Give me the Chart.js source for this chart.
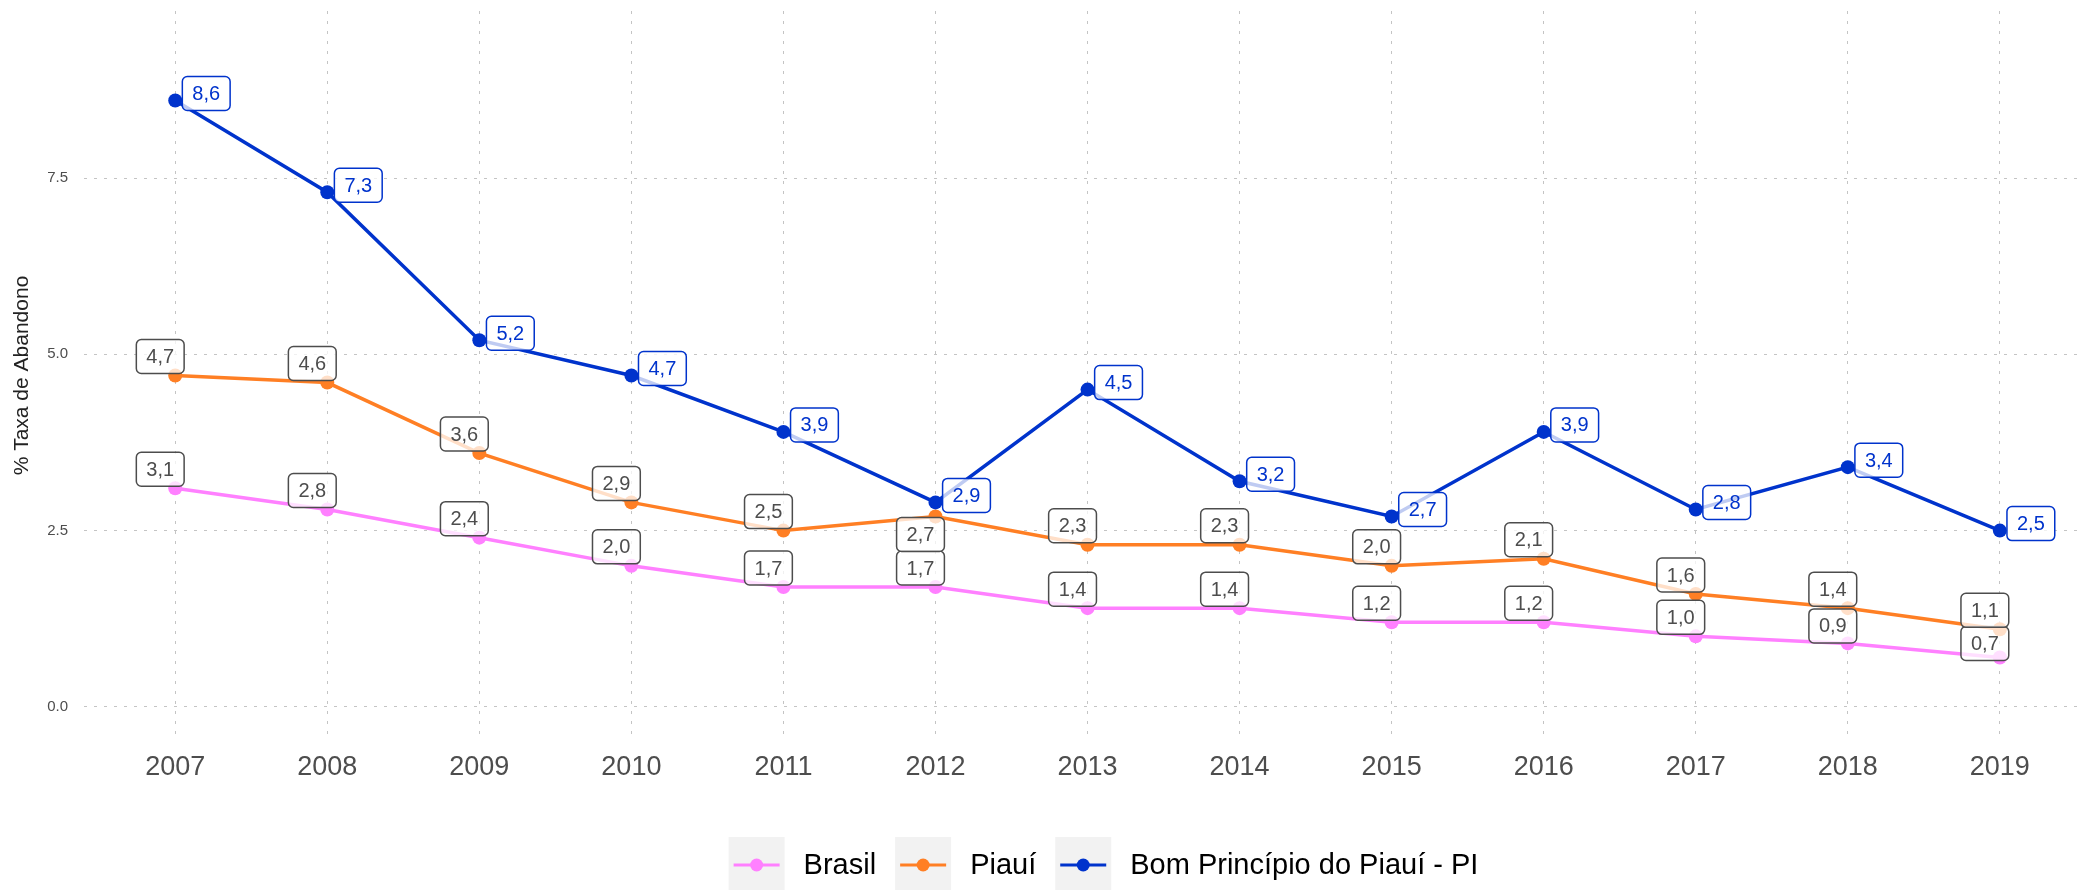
<!DOCTYPE html>
<html lang="pt-BR">
<head>
<meta charset="utf-8">
<title>Taxa de Abandono</title>
<script src="https://cdn.jsdelivr.net/npm/chart.js@4.4.1/dist/chart.umd.min.js"></script>
<style>
  html, body { margin: 0; padding: 0; background: #fff; overflow: hidden; }
  canvas { display: block; }
</style>
</head>
<body>
<canvas id="myChart" width="2092" height="890"></canvas>
<script>
var years = [2007, 2008, 2009, 2010, 2011, 2012, 2013, 2014, 2015, 2016, 2017, 2018, 2019];
var brasil = [3.1, 2.8, 2.4, 2.0, 1.7, 1.7, 1.4, 1.4, 1.2, 1.2, 1.0, 0.9, 0.7];
var piaui = [4.7, 4.6, 3.6, 2.9, 2.5, 2.7, 2.3, 2.3, 2.0, 2.1, 1.6, 1.4, 1.1];
var bomPrincipio = [8.6, 7.3, 5.2, 4.7, 3.9, 2.9, 4.5, 3.2, 2.7, 3.9, 2.8, 3.4, 2.5];
var seriesNames = ['Brasil', 'Piauí', 'Bom Princípio do Piauí - PI'];
var yTicks = [0, 2.5, 5, 7.5];

const FONT = '"Liberation Sans", Arial, Helvetica, sans-serif';

function toPoints(values) {
  var pts = [];
  for (let i = 0; i < years.length; i++) {
    pts.push({ x: years[i], y: values[i] });
  }
  return pts;
}

// boxed value next to every point, ggrepel style
const valueLabels = {
  id: 'valueLabels',
  afterDatasetsDraw(chart) {
    const ctx = chart.ctx;
    ctx.save();
    ctx.font = '20px ' + FONT;
    ctx.textAlign = 'center';
    ctx.textBaseline = 'middle';
    chart.data.datasets.forEach((ds, di) => {
      const meta = chart.getDatasetMeta(di);
      const st = ds.labelStyle;
      meta.data.forEach((pt, i) => {
        const txt = ds.data[i].y.toFixed(1).replace('.', ',');
        const w = ctx.measureText(txt).width + 20;
        const h = 34;
        const dy = (st.nudge[i] !== undefined) ? st.nudge[i] : st.dy;
        const cx = pt.x + st.dx;
        const cy = pt.y + dy;
        ctx.beginPath();
        ctx.roundRect(cx - w / 2, cy - h / 2, w, h, 5);
        ctx.fillStyle = 'rgba(255,255,255,0.75)';
        ctx.fill();
        ctx.lineWidth = 1.5;
        ctx.strokeStyle = st.color;
        ctx.stroke();
        ctx.fillStyle = st.color;
        ctx.fillText(txt, cx, cy + 1);
      });
    });
    ctx.restore();
  }
};

// legend with grey key boxes under the plot
const keyLegend = {
  id: 'keyLegend',
  afterDraw(chart) {
    const ctx = chart.ctx;
    const area = chart.chartArea;
    const key = 56, gap = 19, cy = 865;
    ctx.save();
    ctx.font = '29px ' + FONT;
    const items = chart.data.datasets.map(ds => ({ ds: ds, w: ctx.measureText(ds.label).width }));
    let total = 0;
    items.forEach((it, k) => {
      total += key + gap + it.w + (k < items.length - 1 ? gap : 0);
    });
    let x = (area.left + area.right) / 2 + 19 - total / 2;
    items.forEach(it => {
      ctx.fillStyle = '#F2F2F2';
      ctx.fillRect(x, cy - key / 2, key, key);
      ctx.strokeStyle = it.ds.borderColor;
      ctx.lineWidth = 3;
      ctx.beginPath();
      ctx.moveTo(x + 5, cy);
      ctx.lineTo(x + key - 5, cy);
      ctx.stroke();
      ctx.fillStyle = it.ds.borderColor;
      ctx.beginPath();
      ctx.arc(x + key / 2, cy, 6.5, 0, Math.PI * 2);
      ctx.fill();
      ctx.fillStyle = '#000';
      ctx.textAlign = 'left';
      ctx.textBaseline = 'middle';
      ctx.fillText(it.ds.label, x + key + gap, cy + 1);
      x += key + gap + it.w + gap;
    });
    ctx.restore();
  }
};

const gridStyle = { color: '#C4C4C4', lineWidth: 1, drawTicks: false };
const borderStyle = { display: false, dash: [3, 7] };

const ctx = document.getElementById('myChart');

new Chart(ctx, {
  type: 'line',
  data: {
    datasets: [{
      label: seriesNames[0],
      data: toPoints(brasil),
      borderColor: '#FF80FF',
      backgroundColor: '#FF80FF',
      order: 2,
      labelStyle: { color: '#4D4D4D', dx: -15, dy: -19, nudge: { 11: -17.5, 12: -14 } }
    }, {
      label: seriesNames[1],
      data: toPoints(piaui),
      borderColor: '#FF7F24',
      backgroundColor: '#FF7F24',
      order: 1,
      labelStyle: { color: '#4D4D4D', dx: -15, dy: -19, nudge: { 5: 18 } }
    }, {
      label: seriesNames[2],
      data: toPoints(bomPrincipio),
      borderColor: '#0033CC',
      backgroundColor: '#0033CC',
      order: 0,
      labelStyle: { color: '#0033CC', dx: 31, dy: -7, nudge: {} }
    }]
  },
  options: {
    responsive: false,
    animation: false,
    events: [],
    elements: {
      line: { borderWidth: 3.5, tension: 0 },
      point: { radius: 7, borderWidth: 0, hoverRadius: 7 }
    },
    layout: { padding: { top: 11, right: 1, left: 0, bottom: 0 } },
    plugins: {
      legend: { display: false },
      tooltip: { enabled: false }
    },
    scales: {
      x: {
        type: 'linear',
        min: 2006.4,
        max: 2019.56,
        afterBuildTicks: axis => { axis.ticks = years.map(v => ({ value: v })); },
        afterFit: axis => {
          axis.height = 150;
          axis.paddingLeft = 0;
          axis.paddingRight = 0;
        },
        grid: gridStyle,
        border: borderStyle,
        ticks: {
          padding: 11,
          color: '#4D4D4D',
          font: { family: FONT, size: 27 },
          maxRotation: 0,
          autoSkip: false,
          callback: v => String(v)
        }
      },
      y: {
        min: -0.47,
        max: 9.87,
        afterBuildTicks: axis => { axis.ticks = yTicks.map(v => ({ value: v })); },
        afterFit: axis => {
          axis.width = 84;
          axis.paddingTop = 0;
          axis.paddingBottom = 0;
        },
        grid: gridStyle,
        border: borderStyle,
        ticks: {
          padding: 16,
          color: '#4D4D4D',
          font: { family: FONT, size: 15 },
          callback: v => v.toFixed(1)
        },
        title: {
          display: true,
          text: '% Taxa de Abandono',
          color: '#222',
          font: { family: FONT, size: 21 },
          padding: { top: 10, bottom: 0 }
        }
      }
    }
  },
  plugins: [valueLabels, keyLegend]
});
</script>
</body>
</html>
